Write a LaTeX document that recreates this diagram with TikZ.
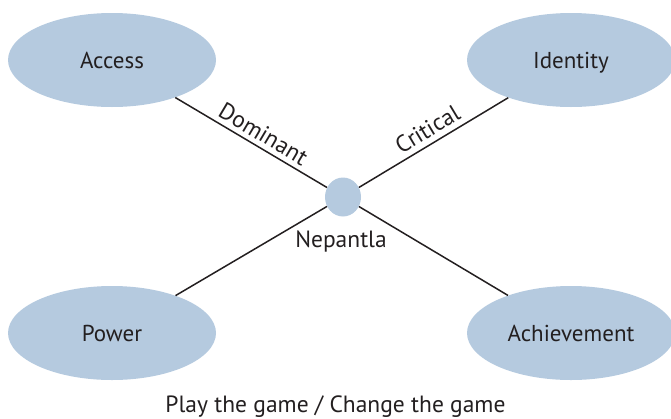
\documentclass[tikz,border=0pt]{standalone}
\usepackage{fontspec}
\setmainfont{PT Sans}
\usetikzlibrary{shapes.geometric}
\definecolor{bubble}{HTML}{B5CADF}
\definecolor{ink}{HTML}{231F20}
\tikzset{
  x=1pt, y=-1pt,
  every node/.style={text=ink},
  bigoval/.style={ellipse, fill=bubble, minimum width=208pt, minimum height=94pt, inner sep=0pt, text height=16pt, text depth=0pt, font=\fontsize{23}{26}\selectfont},
  hub/.style={ellipse, fill=bubble, minimum width=36pt, minimum height=39pt, inner sep=0pt},
  link/.style={line width=1.5pt, draw=ink},
  linklabel/.style={sloped, above, inner sep=4.5pt, font=\fontsize{23.5}{26}\selectfont},
  plain/.style={font=\fontsize{23.5}{26}\selectfont, inner sep=0pt, text height=16pt, text depth=0pt}
}
\begin{document}
\begin{tikzpicture}
\useasboundingbox (0,0) rectangle (671,418);
\node[bigoval] (access) at (112,60) {Access};
\node[bigoval] (identity) at (571,60) {Identity};
\node[bigoval] (power) at (112,333) {Power};
\node[bigoval] (achieve) at (571,333) {Achievement};
\node[hub] (hub) at (343,197) {};
\node[plain] (nep) at (341,239) {Nepantla};
\node[plain] (caption) at (335.5,404) {Play the game / Change the game};
\draw[link] (access) -- node[linklabel, pos=0.535] {Dominant} (hub);
\draw[link] (hub) -- node[linklabel, pos=0.51, inner sep=5.5pt] {Critical} (identity);
\draw[link] (power) -- (hub);
\draw[link] (hub) -- (achieve);
\end{tikzpicture}
\end{document}
